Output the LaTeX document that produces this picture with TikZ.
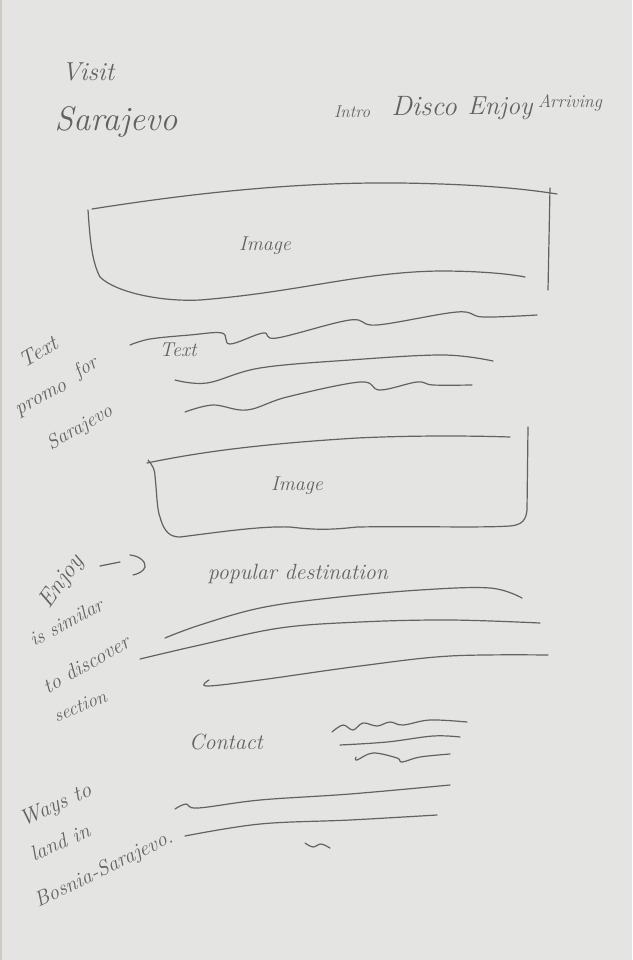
\documentclass[tikz,border=0pt]{standalone}
\usepackage{fontspec}
\begin{document}
\begin{tikzpicture}[x=1pt,y=-1pt,
  pencil/.style={draw=pencilgray, line width=1.2pt, line cap=round, line join=round},
  hand/.style={text=pencilgray, font=\itshape\fontsize{#1}{#1}\selectfont, inner sep=0pt},
  hand/.default=20]
\definecolor{paper}{HTML}{E4E4E2}
\definecolor{pencilgray}{HTML}{626262}
\definecolor{edge}{HTML}{CFCAC2}
% sheet
\fill[paper] (0,0) rectangle (632,960);
\fill[edge] (0,0) rectangle (1.5,960);
\useasboundingbox (0,0) rectangle (632,960);

% title block
\node[hand=26] (visit) at (88,72) {Visit};
\node[hand=34] (sarajevo) at (116,122) {Sarajevo};

% navigation items
\node[hand=17] (intro) at (352,112) {Intro};
\node[hand=28] (disco) at (424,106) {Disco};
\node[hand=26] (enjoy) at (500,108) {Enjoy};
\node[hand=18] (arriving) at (570,103) {Arriving};

% hero image box
\draw[pencil] (92,209) .. controls (200,192) and (300,182) .. (400,183)
  .. controls (470,184) and (520,188) .. (557,194);
\draw[pencil] (550,188) -- (548,290);
\draw[pencil] (88,210) .. controls (90,240) and (92,262) .. (100,277)
  .. controls (115,292) and (160,302) .. (200,300)
  .. controls (300,292) and (360,272) .. (440,271)
  .. controls (480,271) and (510,274) .. (525,277);
\node[hand=20] (img1) at (265,246) {Image};

% text block
\node[hand=20] (textlabel) at (178,350) {Text};
\draw[pencil] plot[smooth, tension=0.6] coordinates {(130,345) (150,339) (190,335) (222,333) (230,344) (263,333) (277,338) (350,320) (377,325) (457,312) (483,317) (537,315)};
\draw[pencil] plot[smooth, tension=0.6] coordinates {(175,380) (207,383) (260,368) (350,360) (443,355) (493,361)};
\draw[pencil] plot[smooth, tension=0.6] coordinates {(185,412) (213,405) (247,410) (287,397) (360,382) (380,390) (417,382) (433,385) (472,385)};

% side note: text promo
\node[hand=22, rotate=30] (n1a) at (38,352) {Text};
\node[hand=20, rotate=32] (n1b) at (86,368) {for};
\node[hand=21, rotate=28] (n1c) at (42,400) {promo};
\node[hand=20, rotate=30] (n1d) at (80,428) {Sarajevo};

% second image box
\draw[pencil] (147,463) .. controls (200,452) and (260,444) .. (357,438)
  .. controls (420,435) and (480,436) .. (510,437);
\draw[pencil] (148,460) .. controls (153,466) and (155,470) .. (155,476)
  .. controls (157,495) and (157,510) .. (160,517)
  .. controls (164,532) and (170,537) .. (180,537)
  .. controls (220,532) and (260,526) .. (290,527)
  .. controls (315,530) and (330,530) .. (357,527)
  .. controls (420,526) and (480,528) .. (510,526)
  .. controls (522,525) and (526,520) .. (527,510)
  -- (528,427);
\node[hand=20] (img2) at (297,486) {Image};

% popular destinations
\node[hand=22] (popular) at (298,574) {popular destination};
\draw[pencil] plot[smooth, tension=0.6] coordinates {(165,638) (200,625) (260,608) (330,598) (420,590) (490,588) (522,598)};
\draw[pencil] plot[smooth, tension=0.6] coordinates {(140,659) (200,645) (280,628) (360,622) (450,620) (540,623)};
\draw[pencil] plot[smooth, tension=0.6] coordinates {(209,680) (207,686) (260,680) (360,666) (450,656) (548,655)};

% side note: enjoy section
\node[hand=24, rotate=55] (n2a) at (62,582) {Enjoy};
\draw[pencil] (100,566) -- (120,562);
\draw[pencil] (130,555) .. controls (140,556) and (146,562) .. (145,567)
  .. controls (144,571) and (138,574) .. (133,575);
\node[hand=20, rotate=28] (n2b) at (66,622) {is similar};
\node[hand=21, rotate=30] (n2c) at (86,664) {to discover};
\node[hand=19, rotate=22] (n2d) at (80,706) {section};

% contact
\node[hand=22] (contact) at (226,742) {Contact};
\draw[pencil] plot[smooth, tension=0.6] coordinates {(332,732) (343,725) (353,730) (363,723) (377,726) (390,722) (403,725) (430,720) (467,722)};
\draw[pencil] plot[smooth, tension=0.6] coordinates {(340,745) (387,742) (433,736) (460,737)};
\draw[pencil] plot[smooth, tension=0.6] coordinates {(356,757) (357,760) (373,753) (397,758) (402,762) (420,757) (450,754)};

% arriving lines
\draw[pencil] plot[smooth, tension=0.6] coordinates {(175,809) (186,804) (198,808) (260,800) (350,794) (450,785)};
\draw[pencil] plot[smooth, tension=0.6] coordinates {(185,836) (260,824) (350,820) (437,815)};
\draw[pencil] plot[smooth, tension=0.6] coordinates {(305,843) (313,847) (321,844) (330,848)};

% side note: arriving
\node[hand=22, rotate=24] (n3a) at (56,806) {Ways to};
\node[hand=21, rotate=24] (n3b) at (60,842) {land in};
\node[hand=21, rotate=26] (n3c) at (104,870) {Bosnia-Sarajevo.};
\end{tikzpicture}
\end{document}
